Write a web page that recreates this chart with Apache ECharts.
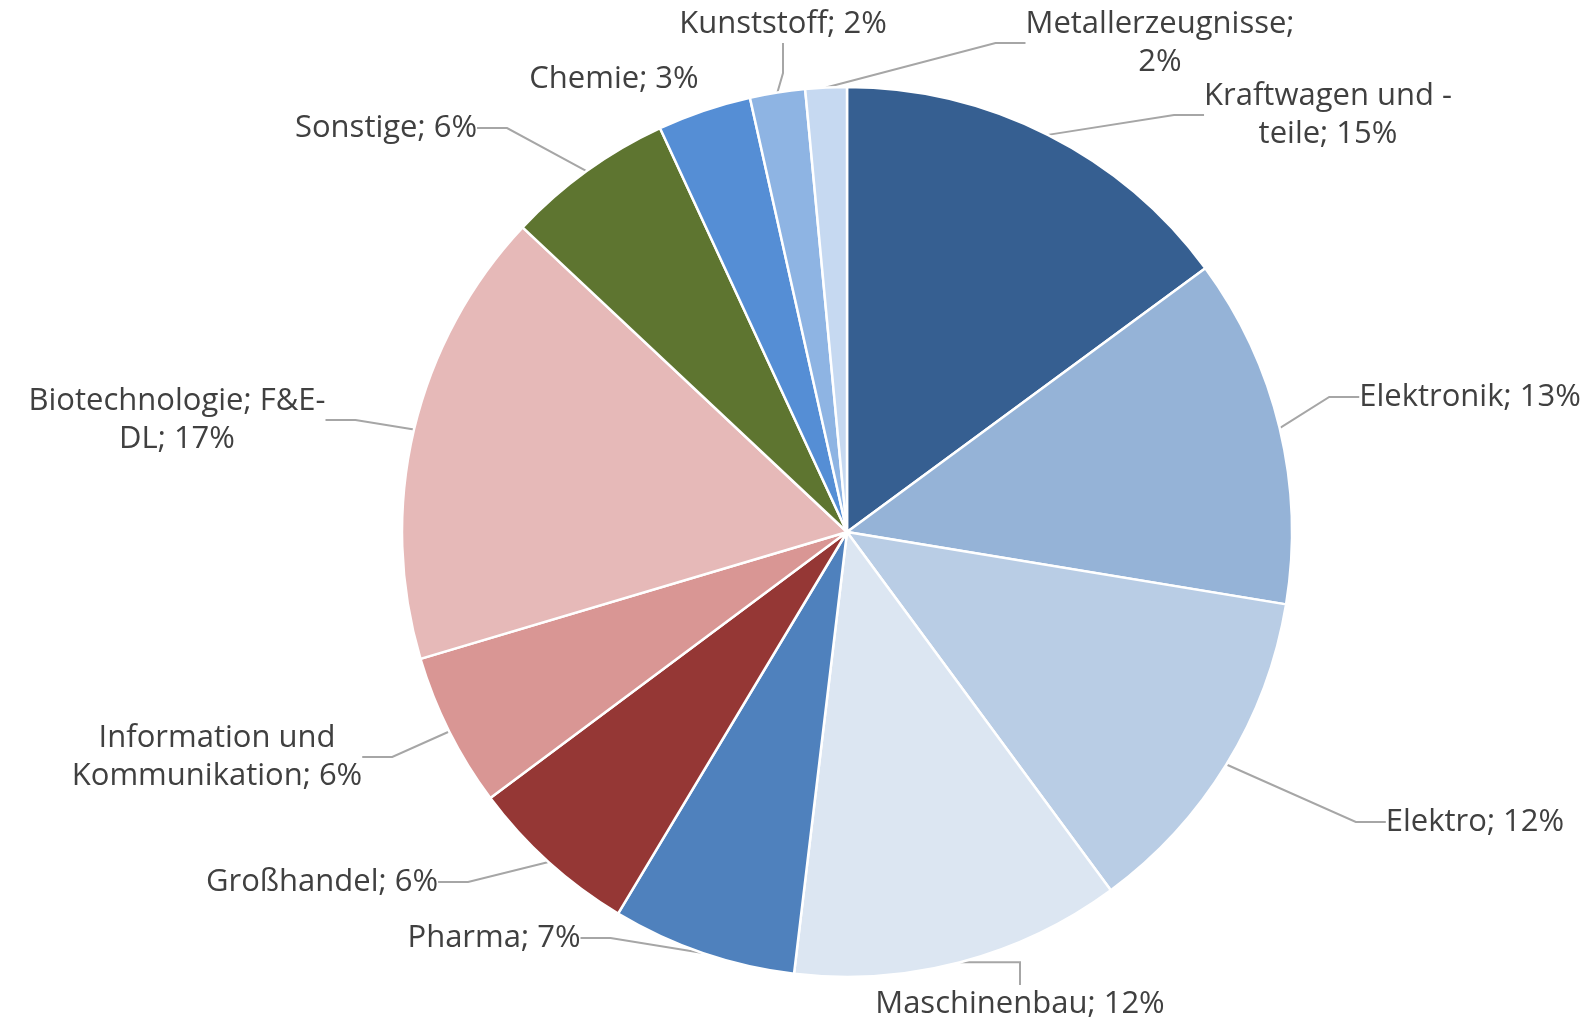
<!DOCTYPE html>
<html>
<head>
<meta charset="utf-8">
<script src="https://cdn.jsdelivr.net/npm/echarts@6/dist/echarts.min.js"></script>
<style>
  html, body { margin: 0; padding: 0; background: #fff; }
  #chart { width: 1586px; height: 1022px; }
</style>
</head>
<body>
<div id="chart"></div>
<script>
// Branchen, im Uhrzeigersinn ab 12 Uhr
const branchen = [
  "Kraftwagen und -teile", "Elektronik", "Elektro", "Maschinenbau",
  "Pharma", "Großhandel", "Information und Kommunikation",
  "Biotechnologie; F&E-DL", "Sonstige", "Chemie", "Kunststoff", "Metallerzeugnisse"
];
// Anteile in %
const anteile = [14.9, 12.7, 12.3, 12.0, 6.7, 6.2, 5.6, 16.6, 6.1, 3.4, 2.0, 1.5];
const farben = [
  "#365F91", "#95B3D7", "#B9CDE5", "#DCE6F2", "#4F81BD", "#953735",
  "#D99694", "#E6B9B8", "#5E7530", "#558ED5", "#8EB4E3", "#C6D9F1"
];
// Zeilenumbruch nach n Zeichen (wie im Original)
const umbruch = { 0: 16, 6: 15, 7: 20, 11: 18 };
// Label-Positionen (Mitte des Textblocks)
const labelPos = [
  [1328, 115], [1470, 397], [1475, 822], [1020, 1004], [494, 938], [322, 882],
  [217, 757], [177, 420], [386, 128], [614, 79], [783, 24], [1160, 43]
];
// Chemie hat keine Führungslinie
const ohneLinie = [9];

const summe = anteile.reduce((a, b) => a + b, 0);

let chart = echarts.init(document.getElementById("chart"));
chart.setOption({
  animation: false,
  series: [
    {
      type: "pie",
      center: [847, 532],
      radius: 445,
      startAngle: 90,
      clockwise: true,
      itemStyle: { borderColor: "#fff", borderWidth: 2.5 },
      label: {
        show: true,
        position: "outside",
        fontFamily: "Open Sans",
        fontSize: 31,
        lineHeight: 38,
        color: "#404040",
        align: "center",
        formatter: (p) => {
          let t = p.name + "; " + Math.round((p.value * 100) / summe) + "%";
          let n = umbruch[p.dataIndex];
          if (n) t = t.slice(0, n).trimEnd() + "\n" + t.slice(n).trimStart();
          return t;
        },
      },
      labelLine: {
        show: true,
        lineStyle: { color: "#A6A6A6", width: 2 },
      },
      labelLayout: (params) => {
        let pos = labelPos[params.dataIndex];
        return { x: pos[0], y: pos[1], align: "center", verticalAlign: "middle" };
      },
      emphasis: { disabled: true },
      data: branchen.map((name, i) => ({
        name: name,
        value: anteile[i],
        itemStyle: { color: farben[i] },
        labelLine: { show: ohneLinie.indexOf(i) < 0 },
      })),
    },
  ],
});
</script>
</body>
</html>
